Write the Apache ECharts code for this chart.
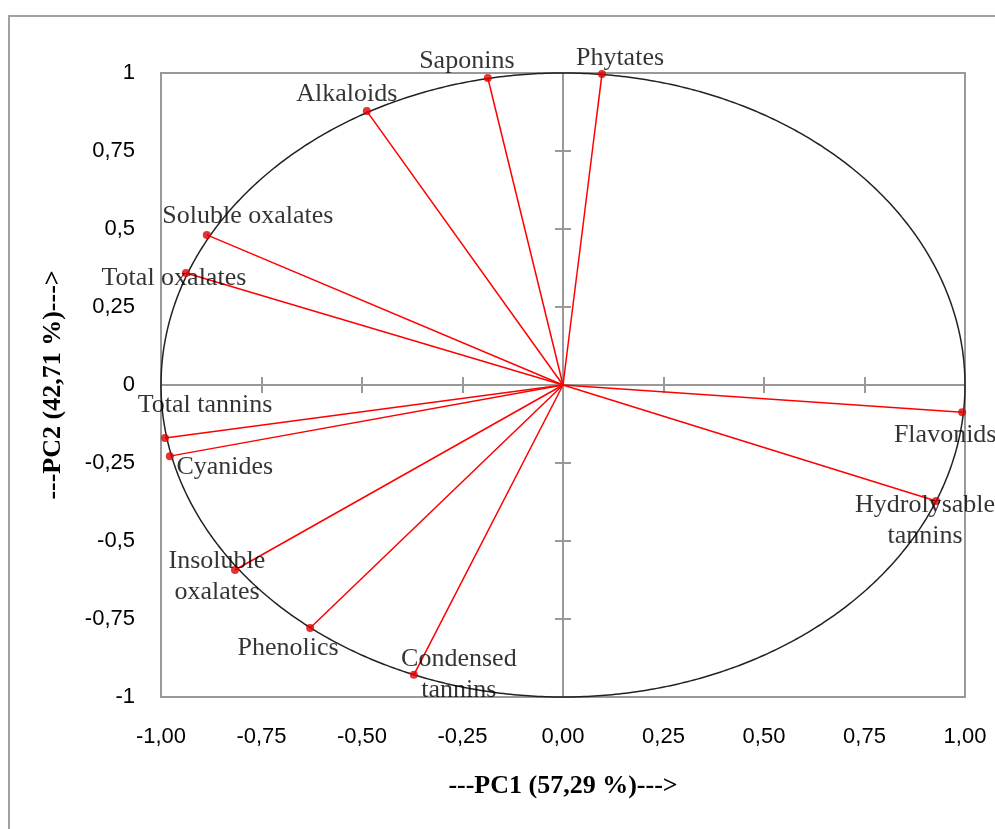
<!DOCTYPE html>
<html><head><meta charset="utf-8">
<script src="https://cdn.jsdelivr.net/npm/echarts@6/dist/echarts.min.js"></script>
<style>html,body{margin:0;padding:0;background:#fff}#c{width:995px;height:829px}</style>
</head><body><div id="c"></div>
<script>
// ---- data ----
const variables = ['Phytates','Saponins','Alkaloids','Soluble oxalates','Total oxalates','Total tannins','Cyanides','Insoluble\noxalates','Phenolics','Condensed\ntannins','Flavonids','Hydrolysable\ntannins'];
const pc1 = [0.097, -0.187, -0.488, -0.886, -0.938, -0.990, -0.978, -0.816, -0.629, -0.371, 0.993, 0.928];
const pc2 = [0.997, 0.984, 0.878, 0.481, 0.359, -0.170, -0.228, -0.593, -0.779, -0.929, -0.087, -0.372];
const xTickLabels = ['-1,00','-0,75','-0,50','-0,25','0,00','0,25','0,50','0,75','1,00'];
const yTickLabels = ['-1','-0,75','-0,5','-0,25','0','0,25','0,5','0,75','1'];
const xTitle = '---PC1 (57,29 %)--->';
const yTitle = '---PC2 (42,71 %)--->';

// ---- label placement (layout, not data) ----
const labelOffset = {
  'Phytates':[18,-16], 'Saponins':[-21,-17], 'Alkaloids':[-20,-17],
  'Soluble oxalates':[41,-19], 'Total oxalates':[-12,5], 'Total tannins':[40,-33],
  'Cyanides':[55,11], 'Insoluble\noxalates':[-18,7], 'Phenolics':[-22,20],
  'Condensed\ntannins':[45,0], 'Flavonids':[-17,23], 'Hydrolysable\ntannins':[-11,20]
};

const serif = '"Liberation Serif","Times New Roman",serif';
const sans = '"Liberation Sans",Arial,sans-serif';
const pts = variables.map((n,i)=>[pc1[i],pc2[i],n]);
const gray = '#999';

function baseAxis(extra){
  return Object.assign({type:'value',min:-1,max:1,interval:0.25,splitLine:{show:false}}, extra);
}
const xAxes = [
  baseAxis({position:'bottom',axisLine:{show:false,onZero:false},axisTick:{show:false},
    axisLabel:{margin:29,fontFamily:sans,fontSize:22,color:'#000',
      formatter:(v)=>xTickLabels[Math.round((v+1)/0.25)]},
    name:xTitle,nameLocation:'middle',nameGap:76,
    nameTextStyle:{fontFamily:serif,fontSize:26,fontWeight:'bold',color:'#000'}}),
  baseAxis({axisLine:{show:true,onZero:true,onZeroAxisIndex:0,lineStyle:{color:gray,width:2}},
    axisTick:{show:true,inside:false,length:8,lineStyle:{color:gray,width:2}},axisLabel:{show:false}}),
  baseAxis({axisLine:{show:true,onZero:true,onZeroAxisIndex:0,lineStyle:{color:gray,width:2}},
    axisTick:{show:true,inside:true,length:8,lineStyle:{color:gray,width:2}},axisLabel:{show:false}})
];
const yAxes = [
  baseAxis({position:'left',axisLine:{show:false,onZero:false},axisTick:{show:false},
    axisLabel:{margin:26,fontFamily:sans,fontSize:22,color:'#000',
      formatter:(v)=>yTickLabels[Math.round((v+1)/0.25)]},
    name:yTitle,nameLocation:'middle',nameGap:95,
    nameTextStyle:{fontFamily:serif,fontSize:26,fontWeight:'bold',color:'#000'}}),
  baseAxis({axisLine:{show:true,onZero:true,onZeroAxisIndex:0,lineStyle:{color:gray,width:2}},
    axisTick:{show:true,inside:false,length:8,lineStyle:{color:gray,width:2}},axisLabel:{show:false}}),
  baseAxis({axisLine:{show:true,onZero:true,onZeroAxisIndex:0,lineStyle:{color:gray,width:2}},
    axisTick:{show:true,inside:true,length:8,lineStyle:{color:gray,width:2}},axisLabel:{show:false}})
];

const labelStyle = {show:true,position:'inside',color:'#000',fontFamily:serif,fontSize:26,lineHeight:31,
  align:'center',verticalAlign:'middle',textBorderWidth:0};

const chart = echarts.init(document.getElementById('c'), null, {renderer:'canvas'});
chart.setOption({
  animation:false,
  backgroundColor:'#fff',
  graphic:[{type:'rect',silent:true,z:-10,shape:{x:9,y:16,width:1000,height:830},
    style:{fill:'none',stroke:'#a0a0a0',lineWidth:2}}],
  grid:{left:161,top:73,width:804,height:624,show:true,borderColor:gray,borderWidth:2,
    containLabel:false,outerBoundsMode:'none'},
  xAxis:xAxes,
  yAxis:yAxes,
  series:[
    {type:'custom',name:'circle',silent:true,z:2,data:[[0,0]],
      renderItem:function(params,api){
        const points=[];
        const steps=720;
        for(let k=0;k<=steps;k++){
          const t=2*Math.PI*k/steps;
          points.push(api.coord([Math.cos(t),Math.sin(t)]));
        }
        return {type:'polyline',shape:{points:points},style:{fill:'none',stroke:'#222',lineWidth:1.5}};
      }},
    {type:'custom',name:'vectors',silent:true,z:3,data:pts,
      encode:{x:0,y:1},
      renderItem:function(params,api){
        const o=api.coord([0,0]);
        const p=api.coord([api.value(0),api.value(1)]);
        return {type:'line',shape:{x1:o[0],y1:o[1],x2:p[0],y2:p[1]},style:{stroke:'#ff0000',lineWidth:1.5}};
      }},
    {type:'scatter',name:'points',z:4,symbol:'circle',symbolSize:8,
      itemStyle:{color:'#e00000'},
      data:pts.map(p=>({value:[p[0],p[1]],name:p[2],
        label:Object.assign({},labelStyle,{offset:labelOffset[p[2]],formatter:p[2]})})),
      label:labelStyle
    }
  ]
});
</script></body></html>
